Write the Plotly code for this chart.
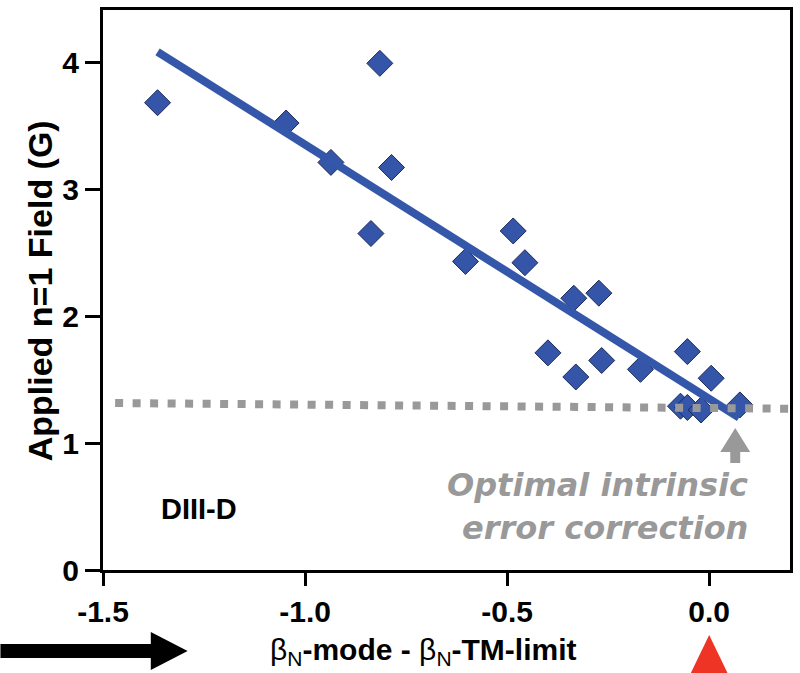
import plotly.graph_objects as go

# Measured shots: distance from the tearing-mode beta limit vs applied n=1 field
beta_offset = [-1.365, -1.047, -0.936, -0.815, -0.786, -0.837, -0.603,
               -0.485, -0.456, -0.335, -0.273, -0.399, -0.330, -0.266,
               -0.170, -0.054, 0.005, -0.071, -0.054, -0.020, 0.076]
applied_field = [3.68, 3.52, 3.21, 3.99, 3.17, 2.65, 2.43,
                 2.67, 2.42, 2.14, 2.18, 1.71, 1.52, 1.65,
                 1.58, 1.72, 1.51, 1.29, 1.28, 1.26, 1.30]

# Linear trend through the data
fit_x = [-1.365, 0.074]
fit_y = [4.08, 1.20]

# Level of the optimal intrinsic error-field correction
ref_x = [-1.47, 0.20]
ref_y = [1.315, 1.27]

x_ticks = [-1.5, -1.0, -0.5, 0.0]
x_tick_text = ["-1.5", "-1.0", "-0.5", "0.0"]
y_ticks = [0, 1, 2, 3, 4]

BLUE = "#3557a9"
GREY = "#999999"
SANS = "Liberation Sans, Arial"

# plot-area geometry in pixels (used to place decorations outside the axes)
W, H = 800, 673
L, R, T, B = 103, 793, 10, 570


def px(xp, yp):
    return (xp - L) / (R - L), (B - yp) / (B - T)


def poly(points):
    parts = []
    for i, (xp, yp) in enumerate(points):
        xx, yy = px(xp, yp)
        parts.append(("M" if i == 0 else "L") + f" {xx:.5f},{yy:.5f}")
    return " ".join(parts) + " Z"


fig = go.Figure()

fig.add_trace(go.Scatter(
    x=beta_offset, y=applied_field, mode="markers",
    marker=dict(symbol="diamond", size=20, color="#3556a8",
                line=dict(color="#1c2b5a", width=1)),
    showlegend=False, hoverinfo="skip"))

fig.add_trace(go.Scatter(
    x=fit_x, y=fit_y, mode="lines",
    line=dict(color=BLUE, width=8),
    showlegend=False, hoverinfo="skip"))

fig.add_trace(go.Scatter(
    x=ref_x, y=ref_y, mode="lines",
    line=dict(color=GREY, width=8, dash="8px,9.5px"),
    showlegend=False, hoverinfo="skip"))

annotations = []

# axis titles
tx, ty = px(425, 651)
annotations.append(dict(
    xref="paper", yref="paper", x=tx, y=ty, xanchor="center", yanchor="middle",
    showarrow=False,
    text="β<sub>N</sub><b>-mode - </b>β<sub>N</sub><b>-TM-limit</b>",
    font=dict(family=SANS, size=30, color="black")))
tx, ty = px(40, 291)
annotations.append(dict(
    xref="paper", yref="paper", x=tx, y=ty, xanchor="center", yanchor="middle",
    showarrow=False, textangle=-90,
    text="<b>Applied n=1 Field (G)</b>",
    font=dict(family=SANS, size=34, color="black")))

# device label
tx, ty = px(159, 509)
annotations.append(dict(
    xref="paper", yref="paper", x=tx, y=ty, xanchor="left", yanchor="middle",
    showarrow=False, text="<b>DIII-D</b>",
    font=dict(family=SANS, size=29, color="black")))

# correction note
for line, yc in (("Optimal intrinsic", 485), ("error correction", 528)):
    tx, ty = px(753, yc)
    annotations.append(dict(
        xref="paper", yref="paper", x=tx, y=ty, xanchor="right", yanchor="middle",
        showarrow=False, text=line,
        font=dict(family="DejaVu Sans", size=32, color=GREY, style="italic",
                  weight="bold")))

shapes = []

# grey pointer to the correction level
shapes.append(dict(
    type="path", xref="paper", yref="paper",
    path=poly([(738, 428), (753, 452), (743, 452), (743, 463),
               (733, 463), (733, 452), (723, 452)]),
    fillcolor=GREY, line=dict(width=0)))

# black arrow pointing along the axis
shapes.append(dict(
    type="path", xref="paper", yref="paper",
    path=poly([(0, 644), (151, 644), (151, 632), (188, 651),
               (151, 670), (151, 658), (0, 658)]),
    fillcolor="black", line=dict(width=0)))

# red marker under the zero point of the axis
_, y_top = px(0, 635)
_, y_bot = px(0, 676)
shapes.append(dict(
    type="path", xref="x", yref="paper",
    path=f"M 0,{y_top} L 0.049,{y_bot} L -0.049,{y_bot} Z",
    fillcolor="#ee3424", line=dict(width=0)))

fig.update_layout(
    width=W, height=H,
    margin=dict(l=L, r=W - R, t=T, b=H - B, pad=0),
    paper_bgcolor="white", plot_bgcolor="white",
    annotations=annotations, shapes=shapes,
    xaxis=dict(
        range=[-1.5, 0.2], tickvals=x_ticks, ticktext=x_tick_text,
        showgrid=False, zeroline=False,
        showline=True, linewidth=3, linecolor="black", mirror=True,
        ticks="outside", ticklen=13, tickwidth=3, tickcolor="black",
        tickfont=dict(family=SANS, size=30, color="black", weight="bold")),
    yaxis=dict(
        range=[0, 4.41], tickvals=y_ticks,
        showgrid=False, zeroline=False,
        showline=True, linewidth=3, linecolor="black", mirror=True,
        ticks="outside", ticklen=15, tickwidth=3, tickcolor="black",
        tickfont=dict(family=SANS, size=30, color="black", weight="bold")),
)

fig.write_html("out.html")
